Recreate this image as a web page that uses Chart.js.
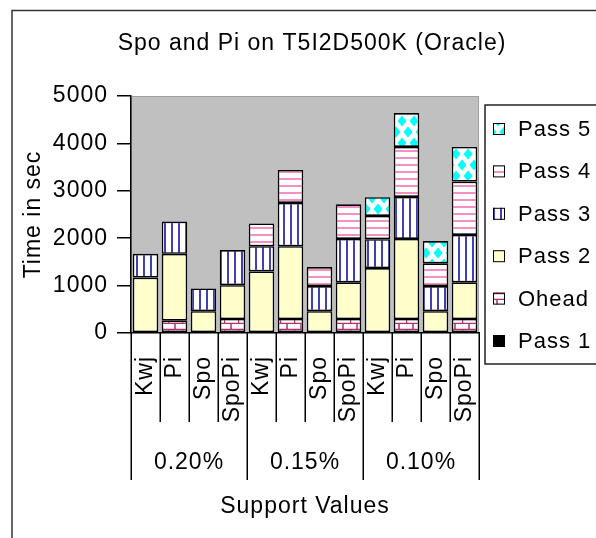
<!DOCTYPE html>
<html>
<head>
<meta charset="utf-8">
<script src="https://cdn.jsdelivr.net/npm/chart.js@4.4.0/dist/chart.umd.min.js"></script>
<style>
  html, body { margin: 0; padding: 0; background: #fff; }
  #wrap { position: relative; width: 596px; height: 538px; }
</style>
</head>
<body>
<div id="wrap"><canvas id="timeChart" width="596" height="538"></canvas></div>
<script>
// Spo and Pi on T5I2D500K (Oracle) - stacked time per pass
const chartTitle = 'Spo and Pi on T5I2D500K (Oracle)';
const supportLevels = ['0.20%', '0.15%', '0.10%'];
const methods = ['Kwj', 'Pi', 'Spo', 'SpoPi'];
const yTicks = [0, 1000, 2000, 3000, 4000, 5000];

//              |------- 0.20% -------|   |------- 0.15% -------|   |------- 0.10% -------|
const pass1 = [20, 20, 20, 20,            20, 20, 20, 20,            20, 20, 20, 20];
const ohead = [null, 240, null, 275,      null, 275, null, 275,      null, 275, null, 275];
const pass2 = [1150, 1410, 440, 715,      1280, 1535, 440, 775,      1350, 1690, 440, 775];
const pass3 = [500, 680, 480, 740,        530, 915, 530, 915,        610, 885, 530, 1000];
const pass4 = [null, null, null, null,    480, 695, 400, 730,        490, 1055, 480, 1125];
const pass5 = [null, null, null, null,    null, null, null, null,    395, 715, 470, 730];

const categories = supportLevels.flatMap(() => methods);

Chart.defaults.font.family = '"Liberation Sans", Arial, sans-serif';
Chart.defaults.color = '#000';

// fill patterns like the old excel ones
function makePattern(w, h, draw) {
    const c = document.createElement('canvas');
    c.width = w; c.height = h;
    const g = c.getContext('2d');
    g.fillStyle = '#fff';
    g.fillRect(0, 0, w, h);
    draw(g);
    return c.getContext('2d').createPattern(c, 'repeat');
}

const brick = makePattern(14, 12, function(g) {
    g.strokeStyle = '#b03070';
    g.lineWidth = 1.5;
    g.beginPath();
    g.moveTo(0, 5.5); g.lineTo(14, 5.5);
    g.moveTo(0, 11.5); g.lineTo(14, 11.5);
    g.moveTo(7, 0); g.lineTo(7, 5.5);
    g.moveTo(0.5, 5.5); g.lineTo(0.5, 11.5);
    g.stroke();
});
const vStripes = makePattern(7, 4, function(g) {
    g.fillStyle = '#4040b4';
    g.fillRect(3, 0, 2, 4);
});
const hStripes = makePattern(4, 7, function(g) {
    g.fillStyle = '#f590c4';
    g.fillRect(0, 3, 4, 2);
});
const diamonds = makePattern(12, 22, function(g) {
    g.fillStyle = '#00ffff';
    const pts = [[6, 11], [0, 0], [12, 0], [0, 22], [12, 22]];
    pts.forEach(function(p) {
        g.beginPath();
        g.moveTo(p[0], p[1] - 5.5);
        g.lineTo(p[0] + 4.5, p[1]);
        g.lineTo(p[0], p[1] + 5.5);
        g.lineTo(p[0] - 4.5, p[1]);
        g.closePath();
        g.fill();
    });
});

function ds(label, data, fill) {
    return {
        label: label,
        data: data,
        backgroundColor: fill,
        borderColor: '#000',
        borderWidth: 1.6,
        borderSkipped: false,
        categoryPercentage: 1.0,
        barPercentage: 0.88
    };
}

const datasets = [
    ds('Pass 1', pass1, '#000'),
    ds('Ohead', ohead, brick),
    ds('Pass 2', pass2, '#ffffcc'),
    ds('Pass 3', pass3, vStripes),
    ds('Pass 4', pass4, hStripes),
    ds('Pass 5', pass5, diamonds)
];

const decorPlugin = {
    id: 'decor',
    beforeDraw: function(chart) {
        const ctx = chart.ctx;
        const a = chart.chartArea;
        ctx.save();
        ctx.fillStyle = '#fff';
        ctx.fillRect(0, 0, chart.width, chart.height);
        ctx.fillStyle = '#c0c0c0';
        ctx.fillRect(a.left, a.top, a.right - a.left, a.bottom - a.top);
        ctx.strokeStyle = '#a0a0a0';
        ctx.lineWidth = 1;
        ctx.strokeRect(a.left + 0.5, a.top + 0.5, a.right - a.left - 1, a.bottom - a.top - 1);
        ctx.restore();
        // the old excel text is a bit wider than Arial
        ctx.letterSpacing = '1px';
    },
    afterDraw: function(chart) {
        const ctx = chart.ctx;
        const xs = chart.scales.x;
        const n = categories.length;
        const step = (xs.right - xs.left) / n;
        ctx.save();
        ctx.letterSpacing = '1px';

        // chart title (drawn here so it is not squeezed into the plot width)
        ctx.font = '23px "Liberation Sans", Arial, sans-serif';
        ctx.fillStyle = '#000';
        ctx.textAlign = 'center';
        ctx.textBaseline = 'middle';
        ctx.fillText(chartTitle, 312, 44);

        // separators under the axis (long ones between support groups)
        ctx.strokeStyle = '#000';
        ctx.lineWidth = 1.5;
        for (let i = 0; i <= n; i++) {
            const x = Math.round(xs.left + i * step) + 0.25;
            const longLine = i % methods.length === 0;
            ctx.beginPath();
            ctx.moveTo(x, xs.top);
            ctx.lineTo(x, longLine ? xs.top + 147 : xs.top + 89);
            ctx.stroke();
        }

        // group labels
        supportLevels.forEach(function(lbl, g) {
            const cx = xs.left + (g * methods.length + methods.length / 2) * step;
            ctx.fillText(lbl, cx, xs.top + 130);
        });

        // legend box
        const lx = 485, ly = 105, lh = 259;
        ctx.lineWidth = 1.5;
        ctx.strokeStyle = '#222';
        ctx.strokeRect(lx, ly, 200, lh);
        ctx.font = '22px "Liberation Sans", Arial, sans-serif';
        ctx.textAlign = 'left';
        const items = chart.data.datasets.slice().reverse();
        items.forEach(function(d, i) {
            const y = 129 + i * 42.4;
            ctx.fillStyle = d.backgroundColor;
            ctx.fillRect(493, y - 6, 12, 12);
            ctx.lineWidth = 1;
            ctx.strokeStyle = '#000';
            ctx.strokeRect(493.5, y - 5.5, 11, 11);
            ctx.fillStyle = '#000';
            ctx.fillText(d.label, 518, y + 1);
        });

        // outer frame of the chart object
        ctx.strokeStyle = '#333';
        ctx.lineWidth = 1.5;
        ctx.beginPath();
        ctx.moveTo(12, chart.height);
        ctx.lineTo(12, 10.5);
        ctx.lineTo(chart.width, 10.5);
        ctx.stroke();
        ctx.restore();
    }
};

new Chart(document.getElementById('timeChart'), {
    type: 'bar',
    data: { labels: categories, datasets: datasets },
    plugins: [decorPlugin],
    options: {
        responsive: false,
        animation: false,
        layout: { padding: { left: 0, right: 117, top: 96, bottom: 0 } },
        plugins: {
            legend: { display: false },
            tooltip: { enabled: false },
            title: { display: false }
        },
        scales: {
            x: {
                stacked: true,
                grid: { display: false, drawTicks: false },
                border: { display: true, color: '#000', width: 1.5 },
                ticks: {
                    minRotation: 90,
                    maxRotation: 90,
                    autoSkip: false,
                    padding: 23,
                    font: { size: 23 },
                    color: '#000'
                },
                title: {
                    display: true,
                    text: 'Support Values',
                    font: { size: 23 },
                    color: '#000',
                    padding: { top: 0, bottom: 18 }
                },
                afterFit: function(scale) { scale.height = 205; }
            },
            y: {
                stacked: true,
                min: yTicks[0],
                max: yTicks[yTicks.length - 1],
                grid: { display: true, drawOnChartArea: false, drawTicks: true, tickLength: 14, color: '#000', lineWidth: 1.5 },
                border: { display: true, color: '#000', width: 1.5 },
                ticks: {
                    stepSize: yTicks[1] - yTicks[0],
                    padding: 9,
                    font: { size: 23 },
                    color: '#000',
                    callback: function(v) { return String(v); }
                },
                title: {
                    display: true,
                    text: 'Time in sec',
                    font: { size: 23 },
                    color: '#000',
                    padding: { top: 20, bottom: 0 }
                },
                afterFit: function(scale) { scale.width = 131; }
            }
        }
    }
});
</script>
</body>
</html>
